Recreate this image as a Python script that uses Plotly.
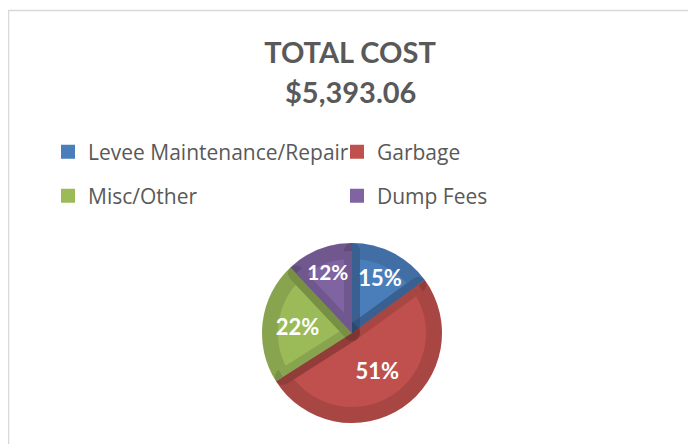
import plotly.graph_objects as go

# ---- data ----
categories = ["Levee Maintenance/Repair", "Garbage", "Misc/Other", "Dump Fees"]
costs = [808.96, 2750.46, 1186.47, 647.17]
fill_colors = ["#4A7EBB", "#C0504D", "#9BBB59", "#8064A2"]
title_line = "TOTAL COST"

# page body has an 8px margin, so the figure is drawn 8px in from the window edge
OFF = 8
W, H = 696 - OFF, 444 - OFF
total = sum(costs)

def px_x(x):
    return (x - OFF) / W

def px_y(y):
    return 1 - (y - OFF) / H

cx, cy, r_outer, band = 352, 333, 90, 8
r_inner = r_outer - band
outer_dom = dict(x=[px_x(cx - r_outer), px_x(cx + r_outer)],
                 y=[px_y(cy + r_outer), px_y(cy - r_outer)])
inner_dom = dict(x=[px_x(cx - r_inner), px_x(cx + r_inner)],
                 y=[px_y(cy + r_inner), px_y(cy - r_inner)])

fig = go.Figure()

# base pie (outer rim colour area)
fig.add_trace(go.Pie(
    labels=categories, values=costs, sort=False, direction="clockwise", rotation=0,
    marker=dict(colors=fill_colors, line=dict(width=0)),
    textinfo="none", hoverinfo="skip", showlegend=False, domain=outer_dom,
))

# inner pie with darkening stroke to create the bevel
fig.add_trace(go.Pie(
    labels=categories, values=costs, sort=False, direction="clockwise", rotation=0,
    marker=dict(colors=fill_colors, line=dict(width=2 * band, color="rgba(0,0,0,0.12)")),
    textinfo="none", showlegend=False, domain=inner_dom,
))

# percentage labels on the full-size pie
fig.add_trace(go.Pie(
    labels=categories, values=costs, sort=False, direction="clockwise", rotation=0,
    marker=dict(colors=["rgba(0,0,0,0)"] * len(categories), line=dict(width=0)),
    texttemplate="%{percent:.0%}", textposition="inside", insidetextorientation="horizontal",
    textfont=dict(family="Lato", size=22, color="white", weight="bold"),
    hoverinfo="skip", showlegend=False, domain=outer_dom,
))

# legend entries (two rows, two columns)
for i, (name, col) in enumerate(zip(categories, fill_colors)):
    fig.add_trace(go.Scatter(
        x=[None], y=[None], mode="markers", name=name,
        marker=dict(symbol="square", size=14, color=col),
        legend="legend" if i < 2 else "legend2", showlegend=True,
    ))

leg_common = dict(orientation="h", entrywidth=244, entrywidthmode="pixels",
                  font=dict(family="Open Sans", size=21, color="#595959"),
                  bgcolor="rgba(0,0,0,0)", xanchor="left", yanchor="middle",
                  itemclick=False, itemdoubleclick=False)

fig.update_layout(
    width=W, height=H,
    margin=dict(l=0, r=0, t=0, b=0),
    paper_bgcolor="white", plot_bgcolor="white",
    title=dict(text=title_line, x=px_x(350), xanchor="center",
               y=px_y(53), yanchor="middle",
               font=dict(family="Lato", size=29, color="#595959", weight="bold")),
    annotations=[dict(text=f"${total:,.2f}", xref="paper", yref="paper",
                      x=px_x(350), y=px_y(92), xanchor="center", yanchor="middle",
                      showarrow=False,
                      font=dict(family="Lato", size=29, color="#595959", weight="bold"))],
    xaxis=dict(visible=False), yaxis=dict(visible=False),
    legend=dict(x=px_x(48), y=px_y(152), **leg_common),
    legend2=dict(x=px_x(48), y=px_y(196), **leg_common),
    shapes=[dict(type="rect", xref="paper", yref="paper",
                 x0=px_x(8.5), x1=px_x(689.5), y0=-0.05, y1=px_y(10.5),
                 line=dict(color="#D9D9D9", width=1.5), fillcolor="rgba(0,0,0,0)",
                 layer="below")],
)

fig.write_html("out.html")
